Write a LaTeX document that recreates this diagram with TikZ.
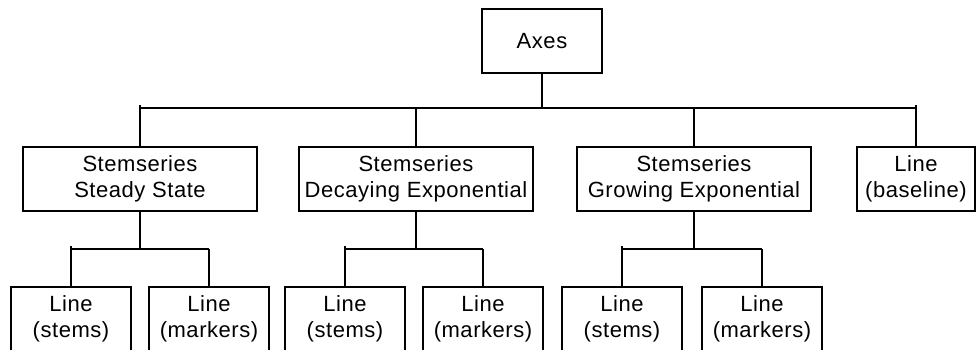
\documentclass[tikz,border=0pt]{standalone}
\usepackage{fontspec}
\setmainfont[LetterSpace=2.5]{Liberation Sans}
\begin{document}
\begin{tikzpicture}[x=1pt,y=-1pt,
  box/.style={draw,line width=1.3pt,rectangle,inner sep=0pt,minimum height=64pt,
    align=center,font=\fontsize{22}{26}\selectfont},
  conn/.style={line width=1.3pt}]
\useasboundingbox (0,0) rectangle (976,349);
% top
\node[box,minimum width=120pt] (axes) at (542,41) {Axes};
% level 1
\node[box,minimum width=234pt] (ss) at (140,179) {Stemseries\\Steady State};
\node[box,minimum width=234pt] (de) at (416,179) {Stemseries\\Decaying Exponential};
\node[box,minimum width=234pt] (ge) at (694,179) {Stemseries\\Growing Exponential};
\node[box,minimum width=118pt] (bl) at (916,179) {Line\\(baseline)};
% level 2
\node[box,minimum width=120pt] (s1) at (71,319) {Line\\(stems)};
\node[box,minimum width=120pt] (m1) at (209,319) {Line\\(markers)};
\node[box,minimum width=120pt] (s2) at (345,319) {Line\\(stems)};
\node[box,minimum width=120pt] (m2) at (483,319) {Line\\(markers)};
\node[box,minimum width=120pt] (s3) at (622,319) {Line\\(stems)};
\node[box,minimum width=120pt] (m3) at (762,319) {Line\\(markers)};
% bar coordinates
\coordinate (tb) at (0,108);
\coordinate (lb) at (0,249);
% top tree
\draw[conn] (axes.south) -- (axes.south |- tb);
\draw[conn] (ss.north |- tb) -- (bl.north |- tb);
\draw[conn] (ss.north) -- ([yshift=3pt]ss.north |- tb);
\draw[conn] (de.north) -- (de.north |- tb);
\draw[conn] (ge.north) -- (ge.north |- tb);
\draw[conn] (bl.north) -- ([yshift=3pt]bl.north |- tb);
% subtrees
\foreach \p/\a/\b in {ss/s1/m1, de/s2/m2, ge/s3/m3}{
  \draw[conn] (\p.south) -- (\p.south |- lb);
  \draw[conn] (\a.north |- lb) -- (\b.north |- lb);
  \draw[conn] (\a.north) -- ([yshift=3pt]\a.north |- lb);
  \draw[conn] (\b.north) -- (\b.north |- lb);
}
\end{tikzpicture}
\end{document}
